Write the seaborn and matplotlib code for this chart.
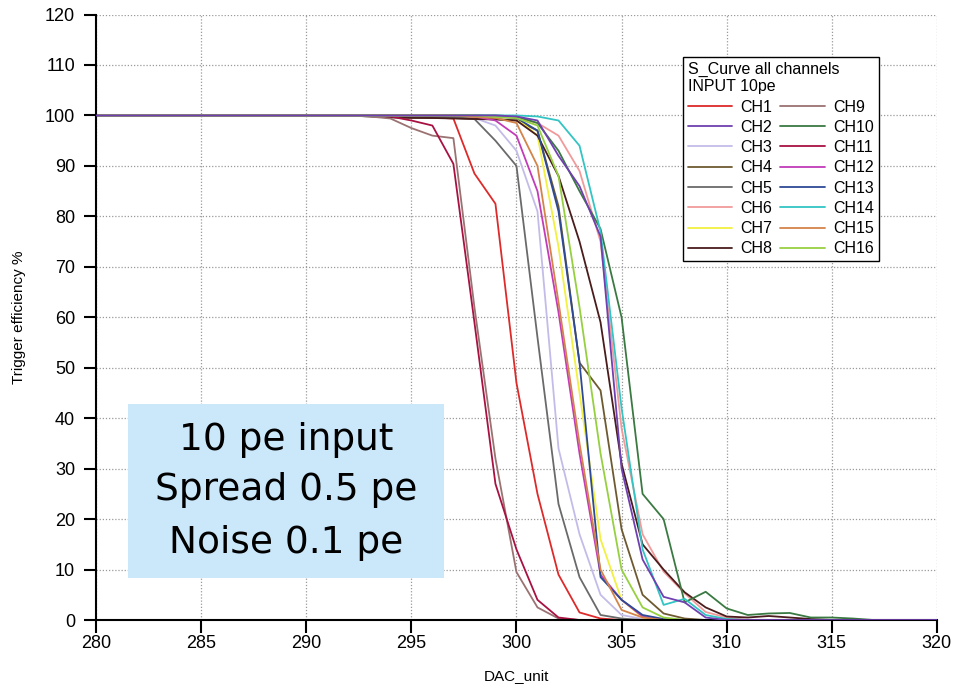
import pandas as pd
import matplotlib
matplotlib.use("Agg")
import matplotlib.pyplot as plt
import seaborn as sns
from matplotlib.patches import Rectangle

# DAC steps (flat before 291 and after 317)
dac = [280, 291, 292, 293, 294, 295, 296, 297, 298, 299, 300, 301, 302, 303, 304,
       305, 306, 307, 308, 309, 310, 311, 312, 313, 314, 315, 316, 317, 320]

# Trigger efficiency % per channel
ch1 = [100, 100, 100, 100, 100, 99.8, 99.6, 99.4, 88.5, 82.5, 47, 25, 9, 1.5, 0.3,
       0, 0, 0, 0, 0, 0, 0, 0, 0, 0, 0, 0, 0, 0]
ch2 = [100, 100, 100, 100, 100, 100, 100, 100, 100, 100, 99.8, 99, 92, 86, 76,
       30, 12, 4.6, 3.5, 0.5, 0, 0, 0, 0, 0, 0, 0, 0, 0]
ch3 = [100, 100, 100, 100, 100, 100, 100, 99.8, 99.5, 98, 93, 81, 34, 17, 5,
       1, 0.2, 0, 0, 0, 0, 0, 0, 0, 0, 0, 0, 0, 0]
ch4 = [100, 100, 100, 100, 99.7, 99.6, 99.5, 99.5, 99.4, 99.3, 99, 97, 82, 51, 45.5,
       18, 5, 1.3, 0.3, 0, 0, 0, 0, 0, 0, 0, 0, 0, 0]
ch5 = [100, 100, 100, 100, 100, 99.8, 99.6, 99.5, 99.3, 95, 90, 56, 23, 8.5, 1,
       0.3, 0, 0, 0, 0, 0, 0, 0, 0, 0, 0, 0, 0, 0]
ch6 = [100, 100, 100, 100, 100, 100, 100, 100, 99.8, 99.7, 99.5, 98.5, 96, 89, 75,
       38, 17, 9.6, 5.3, 1.6, 0.5, 0, 0, 0, 0, 0, 0, 0, 0]
ch7 = [100, 100, 100, 100, 100, 100, 100, 100, 100, 99.8, 99.5, 96, 74, 45, 16,
       4, 0.5, 0, 0, 0, 0, 0, 0, 0, 0, 0, 0, 0, 0]
ch8 = [100, 100, 100, 99.8, 99.6, 99.5, 99.5, 99.4, 99.3, 99.2, 99, 96, 88, 75, 59,
       31, 15, 10, 5.5, 2.5, 0.7, 0.5, 0.8, 0.5, 0.2, 0, 0, 0, 0]
ch9 = [100, 100, 100, 99.8, 99.4, 97.5, 96, 95.5, 62, 32, 9.5, 2.5, 0.3, 0, 0,
       0, 0, 0, 0, 0, 0, 0, 0, 0, 0, 0, 0, 0, 0]
ch10 = [100, 100, 100, 100, 100, 100, 100, 100, 100, 100, 99.8, 98.5, 93, 85, 77.5,
        60, 25, 20, 3.5, 5.6, 2.3, 1.0, 1.3, 1.4, 0.5, 0.5, 0.3, 0, 0]
ch11 = [100, 100, 100, 100, 99.8, 99, 98, 90.4, 59, 27, 14, 4, 0.5, 0, 0,
        0, 0, 0, 0, 0, 0, 0, 0, 0, 0, 0, 0, 0, 0]
ch12 = [100, 100, 100, 100, 100, 100, 100, 100, 99.8, 99, 96, 85, 61, 33, 9,
        4, 0.7, 0, 0, 0, 0, 0, 0, 0, 0, 0, 0, 0, 0]
ch13 = [100, 100, 100, 100, 100, 100, 100, 100, 100, 99.8, 99.5, 97, 81, 51, 8.5,
        4, 1, 0.2, 0, 0, 0, 0, 0, 0, 0, 0, 0, 0, 0]
ch14 = [100, 100, 100, 100, 100, 100, 100, 100, 100, 100, 100, 99.8, 99, 94, 77,
        42, 14, 3, 4.2, 1, 0.2, 0, 0, 0, 0, 0, 0, 0, 0]
ch15 = [100, 100, 100, 100, 100, 100, 100, 100, 99.7, 99.5, 98.5, 90, 63, 35, 10,
        2, 0.5, 0, 0, 0, 0, 0, 0, 0, 0, 0, 0, 0, 0]
ch16 = [100, 100, 100, 100, 100, 100, 100, 100, 100, 99.7, 99.5, 98, 88, 62, 33,
        10, 2.5, 0.5, 0, 0, 0, 0, 0, 0, 0, 0, 0, 0, 0]

channels = ["CH%d" % i for i in range(1, 17)]
series = [ch1, ch2, ch3, ch4, ch5, ch6, ch7, ch8,
          ch9, ch10, ch11, ch12, ch13, ch14, ch15, ch16]
colors = ["#dd2a2a", "#7040b0", "#c4bce8", "#6e5a30", "#6a6a6a", "#f19a9a",
          "#f2f040", "#4a1c1c", "#9a7272", "#3a7a42", "#a81242", "#c23cb8",
          "#2e4a94", "#33c4c4", "#d4844a", "#96d040"]

rows = []
for name, vals in zip(channels, series):
    for x, y in zip(dac, vals):
        rows.append({"DAC_unit": x, "eff": y, "channel": name})
df = pd.DataFrame(rows)

sns.set_style("white")
plt.rcParams['font.family'] = ['Liberation Sans', 'DejaVu Sans']
plt.rcParams['text.color'] = 'black'
plt.rcParams['axes.labelcolor'] = 'black'
plt.rcParams['xtick.color'] = 'black'
plt.rcParams['ytick.color'] = 'black'

fig = plt.figure(figsize=(9.8, 6.92), dpi=100)
ax = fig.add_axes([0.098, 0.104, 0.858, 0.875])

sns.lineplot(data=df, x="DAC_unit", y="eff", hue="channel",
             palette=dict(zip(channels, colors)), estimator=None, sort=False,
             linewidth=1.3, ax=ax)
# purple trace sits on top along the 100% plateau
ax.lines[1].set_zorder(3)

ax.set_xlim(280, 320)
ax.set_ylim(0, 120)
ax.set_xticks(range(280, 321, 5))
ax.set_yticks(range(0, 121, 10))
ax.grid(True, color="#9a9a9a", linestyle=(0, (1, 1.5)), linewidth=0.9)
for s in ["top", "right"]:
    ax.spines[s].set_visible(False)
for s in ["left", "bottom"]:
    ax.spines[s].set_color("black")
    ax.spines[s].set_linewidth(1.5)
ax.tick_params(bottom=True, left=True, direction="out", length=9, width=1.5,
               labelsize=13, color="black")
ax.tick_params(axis="y", pad=6)
ax.tick_params(axis="x", pad=2)
ax.set_xlabel("DAC_unit", fontsize=11, labelpad=12)
ax.set_ylabel("Trigger efficiency %", fontsize=11, labelpad=14)

handles, labels = ax.get_legend_handles_labels()
leg = ax.legend(handles, labels, ncol=2, title="S_Curve all channels\nINPUT 10pe",
                loc="upper left", bbox_to_anchor=(0.698, 0.930), borderaxespad=0,
                frameon=True, fancybox=False, edgecolor="black", framealpha=1,
                fontsize=11.5, title_fontsize=11.5, alignment="left",
                handlelength=2.8, labelspacing=0.33, columnspacing=0.5,
                handletextpad=0.5, borderpad=0.3)
leg.get_frame().set_linewidth(1.0)

# annotation box
ax.add_patch(Rectangle((0.038, 0.069), 0.376, 0.288, transform=ax.transAxes,
                       facecolor="#cbe8fb", edgecolor="none", zorder=4))
for yy, txt in zip([0.297, 0.215, 0.127],
                   ["10 pe input", "Spread 0.5 pe", "Noise 0.1 pe"]):
    ax.text(0.226, yy, txt, transform=ax.transAxes, ha="center", va="center",
            fontsize=27, family=["DejaVu Sans"], color="black", zorder=5)

fig.savefig("out.png", dpi=100)
